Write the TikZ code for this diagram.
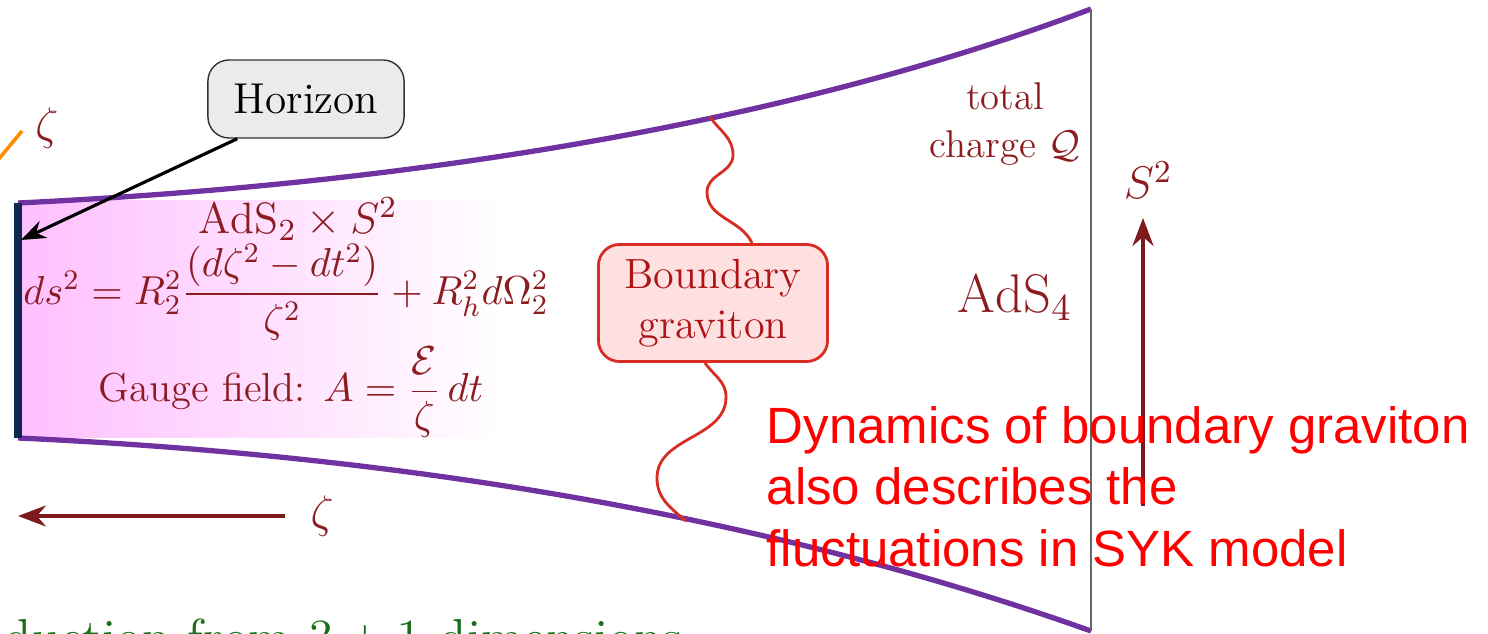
\documentclass[tikz,border=0pt]{standalone}
\usepackage{fix-cm}
\usepackage{amsmath}
\usepackage{fontspec}
\newfontfamily\notefont{Liberation Sans}
\usetikzlibrary{positioning,arrows.meta}
\definecolor{wine}{RGB}{140,28,32}
\definecolor{plum}{RGB}{112,50,160}
\definecolor{navy}{RGB}{10,40,80}
\definecolor{wavered}{RGB}{215,45,35}
\definecolor{leaf}{RGB}{25,110,25}

\begin{document}
\begin{tikzpicture}[
  x=0.01cm, y=-0.01cm, >=Stealth,
  hbox/.style={draw=black!80, fill=black!8, rounded corners=6pt, minimum width=1.96cm, minimum height=0.78cm, font=\fontsize{12.3}{14}\selectfont},
  gbox/.style={draw=wavered, fill=red!12, line width=0.8pt, rounded corners=6pt, align=center, minimum width=2.29cm, minimum height=1.17cm, text=wine!70!red, font=\fontsize{12}{14.3}\selectfont},
  lbl/.style={text=wine, inner sep=0pt, font=\fontsize{11.5}{14}\selectfont},
  wall/.style={draw=plum, line width=1.5pt},
  wig/.style={draw=wavered, line width=0.8pt},
  darr/.style={->, draw=wine!90!black, line width=1.1pt}
]
  \useasboundingbox (0,0) rectangle (1488,634);
  \clip (0,0) rectangle (1488,634);
  \shade[left color=magenta!25, right color=white] (22,201) rectangle (505,438);
  \coordinate (ht) at (18,203);
  \coordinate (hb) at (18,438);
  \coordinate (bt) at (1091,9);
  \coordinate (bb) at (1091,631);
  \draw[wall] (ht) .. controls (500,180) and (850,100) .. (bt);
  \draw[wall] (hb) .. controls (500,460) and (850,545) .. (bb);
  \draw[black!60, line width=0.7pt] (bt) -- (bb);
  \draw[navy, line width=2.4pt] (ht) -- (hb);
  \node[hbox] (hz) at (306,99) {Horizon};
  \coordinate (hp) at (21,240);
  \draw[->, line width=0.9pt] ([xshift=0.3cm]hz.south west) -- (hp);
  \coordinate (oa) at (-2,160);
  \coordinate (ob) at (22,131);
  \draw[orange!90!yellow, line width=1pt] (oa) -- (ob);
  \node[lbl, font=\fontsize{13}{15}\selectfont] (zt) at (47,128) {$\zeta$};
  \node[lbl, font=\fontsize{12.5}{15}\selectfont] (ads2) at (298,219) {$\mathrm{AdS}_2\times S^2$};
  \node[lbl] (metric) at (286,292) {$ds^2=R_2^2\dfrac{(d\zeta^2-dt^2)}{\zeta^2}+R_h^2d\Omega_2^2$};
  \node[lbl] (gauge) at (291,392) {Gauge field: $A=\dfrac{\mathcal{E}}{\zeta}\,dt$};
  \node[gbox] (bg) at (713,303) {Boundary\\graviton};
  \coordinate (wt) at (710,117);
  \coordinate (wb) at (686,521);
  \draw[wig] (wt) to[out=-55,in=90] (733,155) to[out=-90,in=90] (707,192) to[out=-90,in=115] ([xshift=0.39cm]bg.north);
  \draw[wig] ([xshift=-0.08cm]bg.south) to[out=-55,in=90] (726,397) to[out=-90,in=90] (657,478) to[out=-90,in=140] (wb);
  \node[lbl, align=center, font=\fontsize{11}{13.6}\selectfont] (tq) at (1005,124) {total\\charge $\mathcal{Q}$};
  \node[lbl, font=\fontsize{15.5}{18}\selectfont] (ads4) at (1015,297) {$\mathrm{AdS}_4$};
  \node[lbl, font=\fontsize{13}{15}\selectfont] (s2) at (1148,180) {$S^2$};
  \coordinate (s2b) at (1143,506);
  \coordinate (s2t) at (1143,218);
  \draw[darr] (s2b) -- (s2t);
  \coordinate (zs) at (285,516);
  \coordinate (ze) at (18,516);
  \node[lbl, font=\fontsize{13}{15}\selectfont, right=0.25cm of zs] (zb) {$\zeta$};
  \draw[darr] (zs) -- (ze);
  \node[anchor=north west, inner sep=0pt, align=left, text=red, font=\notefont\fontsize{14.5}{17.4}\selectfont] (note) at (766,406) {Dynamics of boundary graviton\\also describes the\\fluctuations in SYK model};
  \node[anchor=base west, inner sep=0pt, text=leaf, font=\fontsize{14.8}{17}\selectfont] (dim) at (3,655) {duction from $3+1$ dimensions};
\end{tikzpicture}
\end{document}
